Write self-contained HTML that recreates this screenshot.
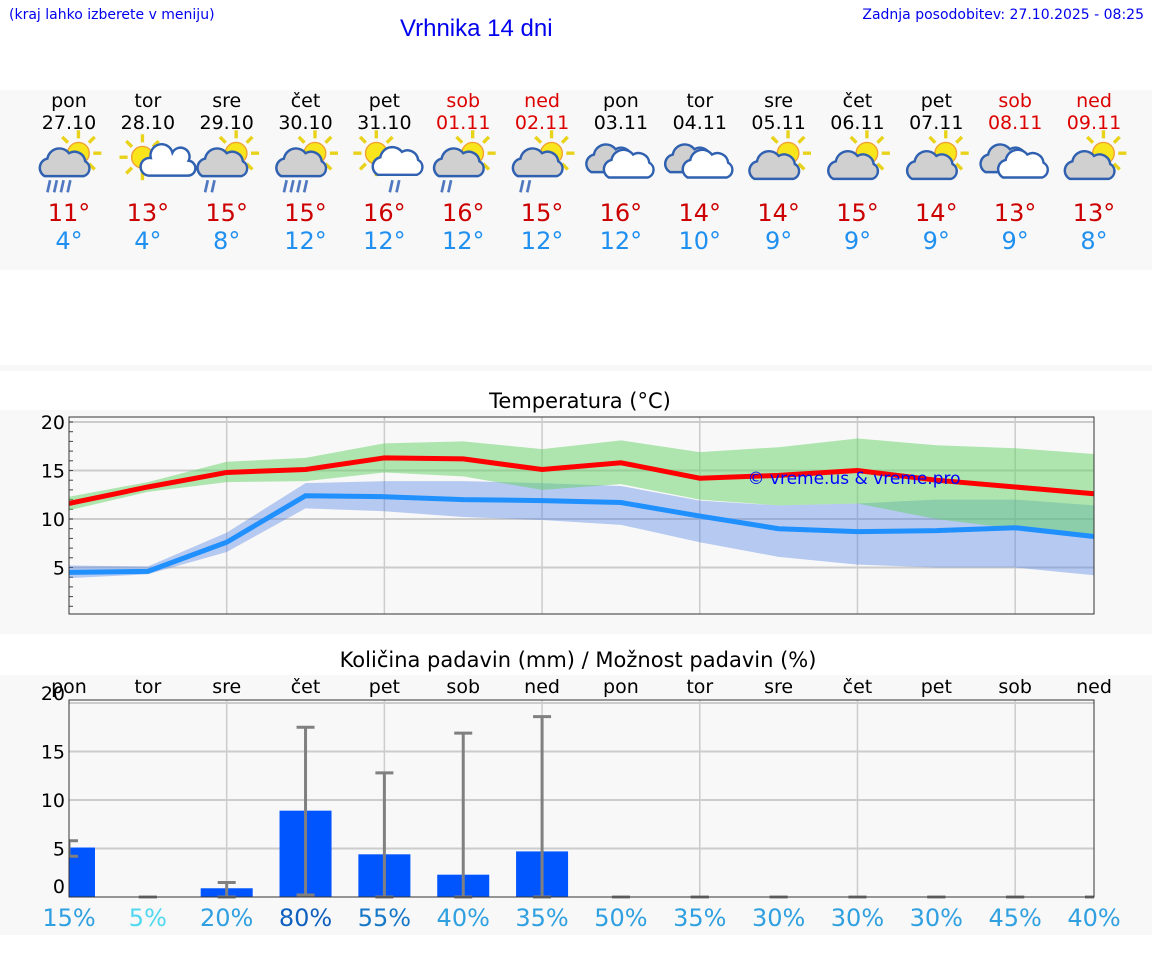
<!DOCTYPE html>
<html><head><meta charset="utf-8">
<style>
body{margin:0;width:1152px;height:975px;background:#fff;font-family:"DejaVu Sans","Liberation Sans",sans-serif;position:relative;overflow:hidden}
.abs{position:absolute}
</style></head>
<body>
<div class="abs" style="left:9px;top:7px;font-size:14px;color:#0000ee">(kraj lahko izberete v meniju)</div>
<div class="abs" style="left:400px;top:15px;font-size:24px;font-family:'Liberation Sans',sans-serif;color:#0000ee">Vrhnika 14 dni</div>
<div class="abs" style="right:8px;top:7px;font-size:14px;color:#0000ee">Zadnja posodobitev: 27.10.2025 - 08:25</div>
<div class="abs" style="left:0;top:90px;width:1152px;height:180px;background:#f8f8f8"></div>
<div class="abs" style="left:0;top:365px;width:1152px;height:6px;background:#f8f8f8"></div>
<div class="abs" style="left:0;top:410px;width:1152px;height:224px;background:#f8f8f8"></div>
<div class="abs" style="left:0;top:675px;width:1152px;height:260px;background:#f8f8f8"></div>
<svg class="abs" style="left:0;top:0" width="1152" height="975" id="svg"></svg>
<script>
const days=["pon","tor","sre","čet","pet","sob","ned","pon","tor","sre","čet","pet","sob","ned"];
const dates=["27.10","28.10","29.10","30.10","31.10","01.11","02.11","03.11","04.11","05.11","06.11","07.11","08.11","09.11"];
const icons=["sr4","s","sr2","sr4","sr2b","sr2","sr2","c","c","sc","sc","sc","c","sc"];
const tMax=[11.6,13.3,14.8,15.1,16.3,16.2,15.1,15.8,14.2,14.5,15.0,14.0,13.3,12.6];
const tMaxHi=[12.3,13.8,15.9,16.3,17.8,18.0,17.2,18.1,16.9,17.4,18.3,17.6,17.3,16.7];
const tMaxLo=[10.9,12.8,13.8,13.9,14.8,14.4,13.0,13.6,12.0,11.4,11.6,10.0,9.0,8.3];
const tMin=[4.5,4.6,7.6,12.4,12.3,12.0,11.9,11.7,10.3,9.0,8.7,8.8,9.1,8.2];
const tMinHi=[5.2,5.1,8.6,13.7,13.9,13.9,13.7,13.4,11.9,11.4,11.6,12.0,12.0,11.4];
const tMinLo=[3.9,4.3,6.6,11.1,10.8,10.2,9.9,9.4,7.6,6.1,5.3,5.0,5.0,4.2];
const maxLabel=[11,13,15,15,16,16,15,16,14,14,15,14,13,13];
const minLabel=[4,4,8,12,12,12,12,12,10,9,9,9,9,8];
const precip=[5.1,0,0.9,8.9,4.4,2.3,4.7,0,0,0,0,0,0,0];
const precipLo=[4.2,0,0,0.2,0,0,0,0,0,0,0,0,0,0];
const precipHi=[5.8,0,1.5,17.5,12.8,16.9,18.6,0,0,0,0,0,0,0];
const chance=[15,5,20,80,55,40,35,50,35,30,30,30,45,40];
const tTicks=[5,10,15,20];
const pTicks=[0,5,10,15,20];
const NS="http://www.w3.org/2000/svg";
const svg=document.getElementById('svg');
function mk(tag,attrs,parent){const e=document.createElementNS(NS,tag);for(const k in attrs)e.setAttribute(k,attrs[k]);(parent||svg).appendChild(e);return e;}
const X0=69,X1=1094,N=14;
const xd=i=>X0+i*(X1-X0)/(N-1);
const yt=v=>616-9.7*v;
const yp=v=>897-9.7*v;
const weekend=i=>i==5||i==6||i==12||i==13;
for(let i=0;i<N;i++){
 const x=xd(i),col=weekend(i)?"#dd0000":"#000";
 let t=mk('text',{x:x,y:107,'text-anchor':'middle','font-size':19,fill:col});t.textContent=days[i];
 
 t=mk('text',{x:x,y:129,'text-anchor':'middle','font-size':19,fill:col});t.textContent=dates[i];
 
 const g=mk('g',{transform:`translate(${x},${164}) scale(1.35)`});
 
 const ic=icons[i];
 const sun=(cx,cy,r)=>{for(let a=0;a<8;a++){const an=a*Math.PI/4;mk('line',{x1:cx+Math.cos(an)*(r+3),y1:cy+Math.sin(an)*(r+3),x2:cx+Math.cos(an)*(r+9),y2:cy+Math.sin(an)*(r+9),stroke:'#e8d21a','stroke-width':2.5},g);}mk('circle',{cx:cx,cy:cy,r:r,fill:'#f8e51c',stroke:'#f0a030','stroke-width':1},g);};
 const cloud=(cx,cy,s,fill)=>{mk('path',{d:`M${cx-14*s},${cy+8*s} a7 7 0 0 1 2,-13 a9 9 0 0 1 16,-4 a8 8 0 0 1 12,6 a6 6 0 0 1 -1,11 z`.replace(/a(\d+) (\d+)/g,(m,a,b)=>'a'+a*s+' '+b*s),fill:fill,stroke:'#3060b0','stroke-width':1.8},g);};
 const rain=(n,cx,cy)=>{for(let k=0;k<n;k++)mk('line',{x1:cx+k*5+2,y1:cy,x2:cx+k*5,y2:cy+9,stroke:'#5078c0','stroke-width':2},g);};
 if(ic=="s"){sun(-4,-5,8);cloud(10,3,0.7,'#fff');}
 else if(ic=="c"){cloud(-8,-2,1,'#d0d0d0');cloud(5,2,1,'#fff');}
 else if(ic=="sc"){sun(7,-8,8);cloud(-4,3,1,'#d0d0d0');}
 else if(ic=="sr2b"){sun(-6,-8,8);cloud(9,0,1,'#fff');rain(2,4,12);}
 else {sun(7,-8,8);cloud(-4,1,1,'#d0d0d0');rain(ic=="sr4"?4:2,-16,12);}
 t=mk('text',{x:x,y:221,'text-anchor':'middle','font-size':24,fill:'#cc0000'});t.textContent=maxLabel[i]+"°";
 
 t=mk('text',{x:x,y:249,'text-anchor':'middle','font-size':24,fill:'#2090f0'});t.textContent=minLabel[i]+"°";
 
}
let tt=mk('text',{x:580,y:408,'text-anchor':'middle','font-size':21,fill:'#000'});tt.textContent="Temperatura (°C)";

mk('rect',{x:X0,y:417,width:X1-X0,height:197,fill:'#f8f8f8'});
for(const v of tTicks){const l=mk('line',{x1:X0,x2:X1,y1:yt(v),y2:yt(v),stroke:'#ccc','stroke-width':2});
 const t=mk('text',{x:X0-4,y:yt(v)+7,'text-anchor':'end','font-size':19,fill:'#000'});t.textContent=v;}
for(let v=1;v<21;v++)mk('line',{x1:X0,x2:X0+4,y1:yt(v),y2:yt(v),stroke:'#444','stroke-width':1});
for(let i=2;i<N;i+=2)mk('line',{x1:xd(i),x2:xd(i),y1:417,y2:614,stroke:'#ccc','stroke-width':1.5});
function band(hi,lo,fill,name){let d="";for(let i=0;i<N;i++)d+=(i?"L":"M")+xd(i)+","+yt(hi[i]);for(let i=N-1;i>=0;i--)d+="L"+xd(i)+","+yt(lo[i]);const p=mk('path',{d:d+"Z",fill:fill});}
function line(a,col,name){let d="";for(let i=0;i<N;i++)d+=(i?"L":"M")+xd(i)+","+yt(a[i]);const p=mk('path',{d:d,fill:'none',stroke:col,'stroke-width':5});}
band(tMinHi,tMinLo,'rgba(80,130,230,0.4)','min-temp-range');
band(tMaxHi,tMaxLo,'rgba(100,210,100,0.5)','max-temp-range');
line(tMin,'#2090ff','min-temp-line');
line(tMax,'#ff0000','max-temp-line');
mk('rect',{x:X0,y:417,width:X1-X0,height:197,fill:'none',stroke:'#333','stroke-width':1});
tt=mk('text',{x:854,y:484,'text-anchor':'middle','font-size':17,fill:'#0000ff'});tt.textContent="© vreme.us & vreme.pro";

tt=mk('text',{x:578,y:667,'text-anchor':'middle','font-size':21,fill:'#000'});tt.textContent="Količina padavin (mm) / Možnost padavin (%)";

mk('rect',{x:X0,y:700,width:X1-X0,height:197,fill:'#f8f8f8'});
for(const v of pTicks){if(v>0){const l=mk('line',{x1:X0,x2:X1,y1:yp(v),y2:yp(v),stroke:'#ccc','stroke-width':2});}
 const t=mk('text',{x:X0-4,y:(v==0?yp(v)-4:v==20?yp(v)-3:yp(v)+7),'text-anchor':'end','font-size':19,fill:'#000'});t.textContent=v;}
for(let i=2;i<N;i+=2)mk('line',{x1:xd(i),x2:xd(i),y1:700,y2:897,stroke:'#ccc','stroke-width':1.5});
const cp=mk('clipPath',{id:'pc'});
mk('rect',{x:X0,y:690,width:X1-X0,height:210},cp);
const pg=mk('g',{'clip-path':'url(#pc)'});
for(let i=0;i<N;i++){
 const x=xd(i);
 if(precip[i]>0){const b=mk('rect',{x:x-26,y:yp(precip[i]),width:52,height:yp(0)-yp(precip[i]),fill:'#0055ff'},pg);}
 const e=mk('g',{},pg);
 mk('line',{x1:x,x2:x,y1:yp(precipHi[i]),y2:yp(precipLo[i]),stroke:'#808080','stroke-width':3},e);
 mk('line',{x1:x-9,x2:x+9,y1:yp(precipHi[i]),y2:yp(precipHi[i]),stroke:'#808080','stroke-width':3},e);
 mk('line',{x1:x-9,x2:x+9,y1:yp(precipLo[i]),y2:yp(precipLo[i]),stroke:'#808080','stroke-width':3},e);
}
mk('rect',{x:X0,y:700,width:X1-X0,height:197,fill:'none',stroke:'#333','stroke-width':1});
for(let i=0;i<N;i++){
 let t=mk('text',{x:xd(i),y:693,'text-anchor':'middle','font-size':19,fill:'#000'});t.textContent=days[i];
 
 const c=chance[i],col=c>=80?'#1060c0':c>=55?'#1878c8':c<=5?'#50d8f0':'#30a0e0';
 t=mk('text',{x:xd(i),y:926,'text-anchor':'middle','font-size':24,fill:col});t.textContent=c+"%";
 
}
</script>
</body></html>
